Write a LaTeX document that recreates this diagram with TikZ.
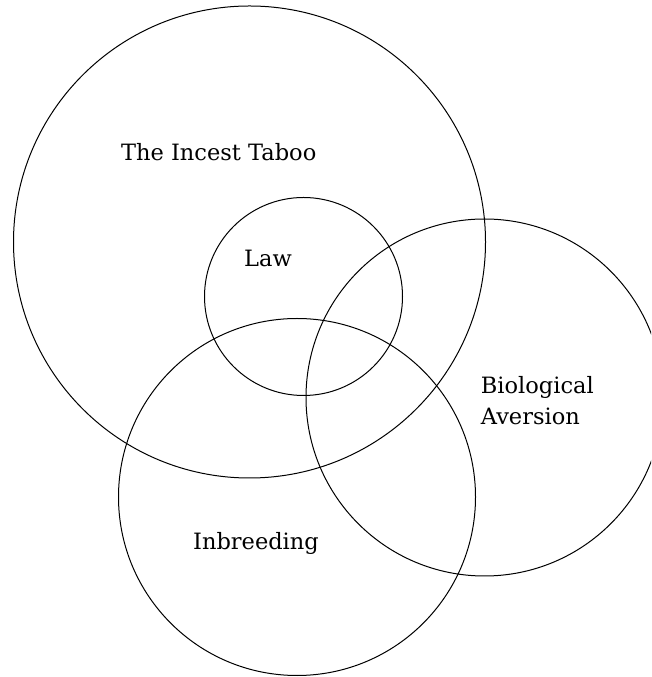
\documentclass[tikz,border=0pt]{standalone}
\usepackage{fontspec}
\setmainfont{DejaVu Serif}
\begin{document}
\begin{tikzpicture}[x=1pt,y=1pt,
  ring/.style={draw=black, line width=1pt},
  lbl/.style={inner sep=0pt, text=black, font=\fontsize{22.5}{32}\selectfont}]
\useasboundingbox (0,0) rectangle (651,677);
\clip (0,0) rectangle (651,677);
% circle centres (y measured from the bottom)
\coordinate (cT) at (249.5,435);
\coordinate (cL) at (303.5,380.5);
\coordinate (cB) at (484.5,279.5);
\coordinate (cI) at (297,180);
\draw[ring] (cT) circle (236);
\draw[ring] (cL) circle (99);
\draw[ring] (cB) circle (178.5);
\draw[ring] (cI) circle (178.5);
\node[lbl, anchor=base] (taboo) at (218.7,516.5) {The Incest Taboo};
\node[lbl, anchor=base] (law) at (268,410) {Law};
\node[lbl, anchor=base west] (bio1) at (480.7,283.7) {Biological};
\node[lbl, anchor=base west] (bio2) at (480.7,252) {Aversion};
\node[lbl, anchor=base] (inb) at (256,127.7) {Inbreeding};
\end{tikzpicture}
\end{document}
